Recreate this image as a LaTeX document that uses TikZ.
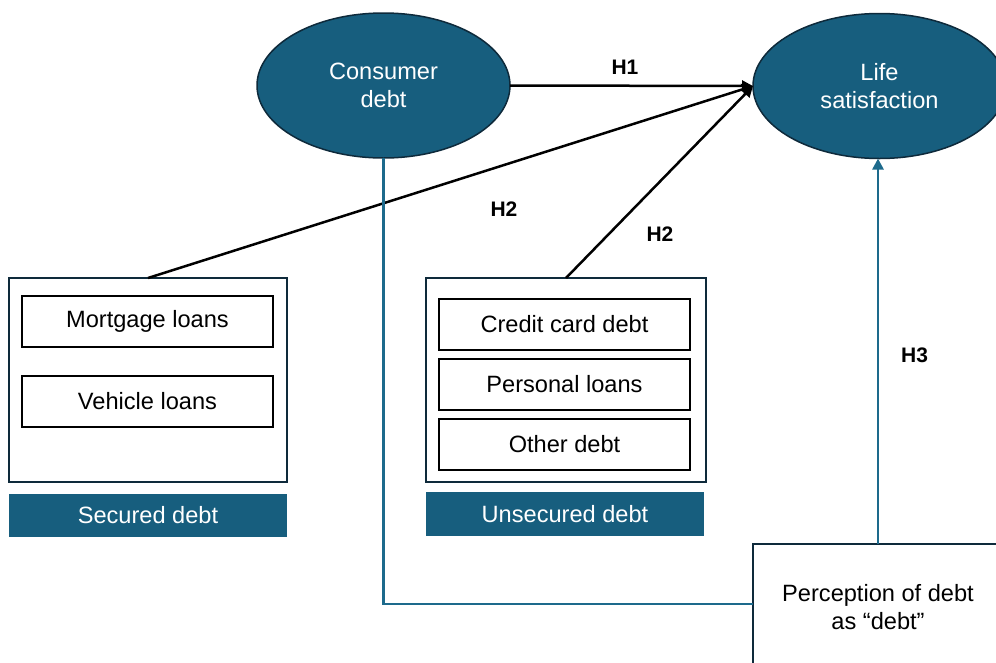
\documentclass[tikz,border=0pt]{standalone}
\usepackage{fontspec}
\setmainfont{Liberation Sans}
\usetikzlibrary{shapes.geometric,arrows.meta}
\definecolor{debtblue}{HTML}{175E7E}
\definecolor{debtnavy}{HTML}{0E2A3B}
\definecolor{linkblue}{HTML}{1D6A8C}
\begin{document}
\begin{tikzpicture}[x=1pt,y=-1pt,
  every node/.style={font=\fontsize{23.6}{28}\selectfont, align=center, inner sep=0pt, outer sep=0pt},
  construct/.style={ellipse, draw=debtnavy, line width=1.5pt, fill=debtblue, text=white,
    minimum width=253pt, minimum height=145pt},
  group/.style={rectangle, draw=debtnavy, line width=2.5pt, fill=white},
  item/.style={rectangle, draw=black, line width=2pt, minimum width=251pt, minimum height=51pt},
  tag/.style={rectangle, fill=debtblue, text=white, minimum width=278pt, minimum height=43pt},
  hyp/.style={font=\fontsize{21}{25}\selectfont\bfseries},
  effect/.style={draw=black, line width=2.5pt, -{Triangle[length=11pt,width=11pt]}},
  link/.style={draw=linkblue, line width=2.5pt},
]
\clip (0,0) rectangle (996,662);

% latent constructs
\node[construct] (cd) at (383.5,85.5) {Consumer\\debt};
\node[construct] (ls) at (879.5,86) {Life\\satisfaction};

% secured debt group
\node[group, minimum width=278pt, minimum height=204pt] (sec) at (148,380) {};
\node[item] (mort) at (147.5,321.5) {Mortgage loans};
\node[item] (veh) at (147.5,401.5) {Vehicle loans};
\node[tag] (sectag) at (148,515.5) {Secured debt};

% unsecured debt group
\node[group, minimum width=280pt, minimum height=204pt] (unsec) at (566,380) {};
\node[item] (cc) at (564.5,324.5) {Credit card debt};
\node[item] (pl) at (564.5,384.5) {Personal loans};
\node[item] (od) at (564.5,444.5) {Other debt};
\node[tag, minimum height=44pt] (unsectag) at (565,514) {Unsecured debt};

% moderator
\node[group, minimum width=250pt, minimum height=126pt] (perc) at (878,607) {Perception of debt\\as “debt”};

% hypothesised effects
\draw[effect] (cd.east) -- (ls.west);
\draw[effect] (sec.north) -- (ls.west);
\draw[effect] (unsec.north) -- (ls.west);

% moderation path
\coordinate (elbow) at (383.5,604);
\draw[link] (cd.south) -- (elbow) -- (elbow -| perc.west);
\draw[link, -{Triangle[length=11pt,width=11pt]}] (perc.north) -- (perc.north |- ls.south);

% hypothesis labels
\node[hyp] (h1) at (625,67.5) {H1};
\node[hyp] (h2a) at (504,209.5) {H2};
\node[hyp] (h2b) at (660,234) {H2};
\node[hyp] (h3) at (914.5,355.5) {H3};
\end{tikzpicture}
\end{document}
